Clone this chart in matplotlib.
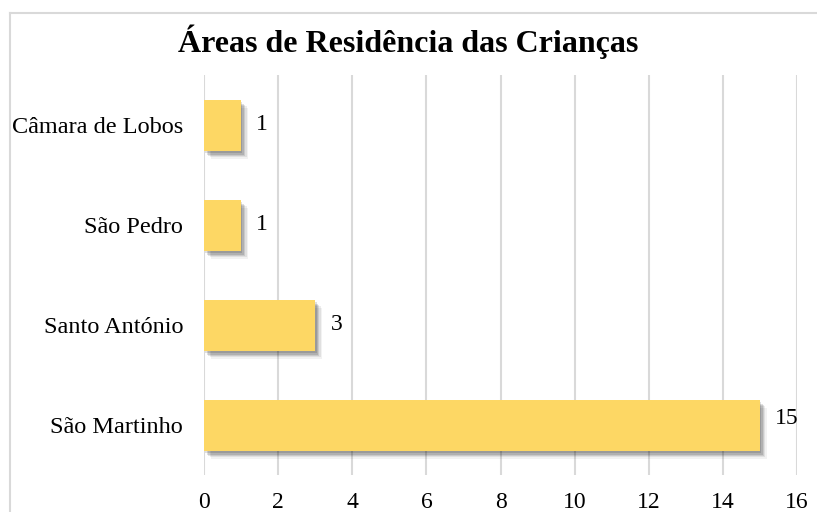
import matplotlib
matplotlib.use("Agg")
import matplotlib.pyplot as plt
import matplotlib.patheffects as pe
from matplotlib.lines import Line2D

categories = ["São Martinho", "Santo António", "São Pedro", "Câmara de Lobos"]
values = [15, 3, 1, 1]
xticks = [0, 2, 4, 6, 8, 10, 12, 14, 16]

plt.rcParams['font.family'] = ['Liberation Serif', 'DejaVu Serif']

fig = plt.figure(figsize=(8.17, 5.12), dpi=100)
ax = fig.add_axes([204/817, 1-475/512, (797-204)/817, 400/512])

shadow = [pe.SimplePatchShadow(offset=(5, -6), shadow_rgbFace='#000000', alpha=0.05),
          pe.SimplePatchShadow(offset=(4, -5), shadow_rgbFace='#000000', alpha=0.07),
          pe.SimplePatchShadow(offset=(3, -4), shadow_rgbFace='#000000', alpha=0.10),
          pe.SimplePatchShadow(offset=(2, -3), shadow_rgbFace='#000000', alpha=0.12),
          pe.SimplePatchShadow(offset=(1, -2), shadow_rgbFace='#000000', alpha=0.12),
          pe.Normal()]
bars = ax.barh(range(len(categories)), values, height=0.51, color='#FDD764',
               zorder=3, path_effects=shadow)
for i, v in enumerate(values):
    dy = 5 if v == max(values) else 0
    ax.annotate(str(v), (v, i), xytext=(11, dy), textcoords='offset points',
                ha='left', va='center', fontsize=17, color='#000000')

ax.set_xlim(0, 16)
ax.set_ylim(-0.5, len(categories) - 0.5)
ax.set_xticks(xticks)
ax.set_xticklabels([str(t) for t in xticks], fontsize=17)
ax.set_yticks(range(len(categories)))
ax.set_yticklabels(categories, fontsize=17.5)
ax.grid(axis='x', color='#d9d9d9', linewidth=1.5, zorder=0)
ax.tick_params(length=0)
ax.tick_params(axis='y', pad=15)
ax.tick_params(axis='x', pad=12)
for s in ax.spines.values():
    s.set_visible(False)

fig.text(0.5, 1-42/512, "Áreas de Residência das Crianças", ha='center', va='center',
         fontsize=23, fontweight='bold')

fig.add_artist(Line2D([10/817, 10/817], [0, 1-13/512], color='#d9d9d9', linewidth=1.5,
                      transform=fig.transFigure))
fig.add_artist(Line2D([10/817, 1], [1-13/512, 1-13/512], color='#d9d9d9', linewidth=1.5,
                      transform=fig.transFigure))

fig.savefig("out.png", dpi=100)
